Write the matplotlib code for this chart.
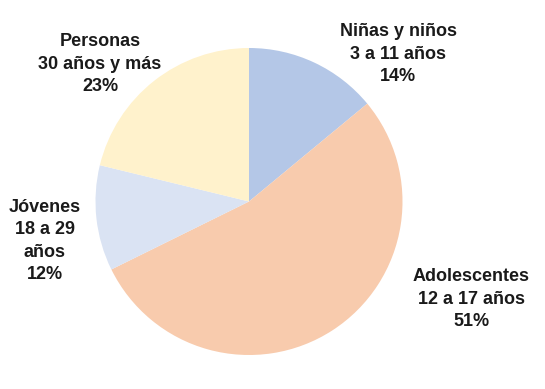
import matplotlib.pyplot as plt

groups = ["Niñas y niños\n3 a 11 años", "Adolescentes\n12 a 17 años",
          "Jóvenes\n18 a 29\naños", "Personas\n30 años y más"]
# slice sizes as drawn in the picture (measured angles)
shares = [14.0, 53.7, 11.1, 21.2]
# percentages as printed on the labels
label_pct = ["14%", "51%", "12%", "23%"]
colors = ["#b4c7e7", "#f8cbad", "#dae3f3", "#fff2cc"]

# label centres in pixel coords (y measured from top)
label_pos = [(398, 54), (471, 299), (45, 241), (100, 64)]

plt.rcParams["font.family"] = ["Liberation Sans", "DejaVu Sans"]

fig = plt.figure(figsize=(5.45, 3.89), dpi=100)
ax = fig.add_axes([0, 0, 1, 1])

ax.pie(shares, colors=colors, startangle=90, counterclock=False,
       center=(249, 389 - 201.5), radius=153.5, frame=True)
ax.set_xlim(0, 545)
ax.set_ylim(0, 389)
ax.set_aspect("equal")
ax.axis("off")

for name, pct, (x, y) in zip(groups, label_pct, label_pos):
    ax.text(x, 389 - y, f"{name}\n{pct}", ha="center", va="center",
            fontsize=13, fontweight="bold", color="#1a1a1a", linespacing=1.43)

fig.savefig("out.png", dpi=100)
